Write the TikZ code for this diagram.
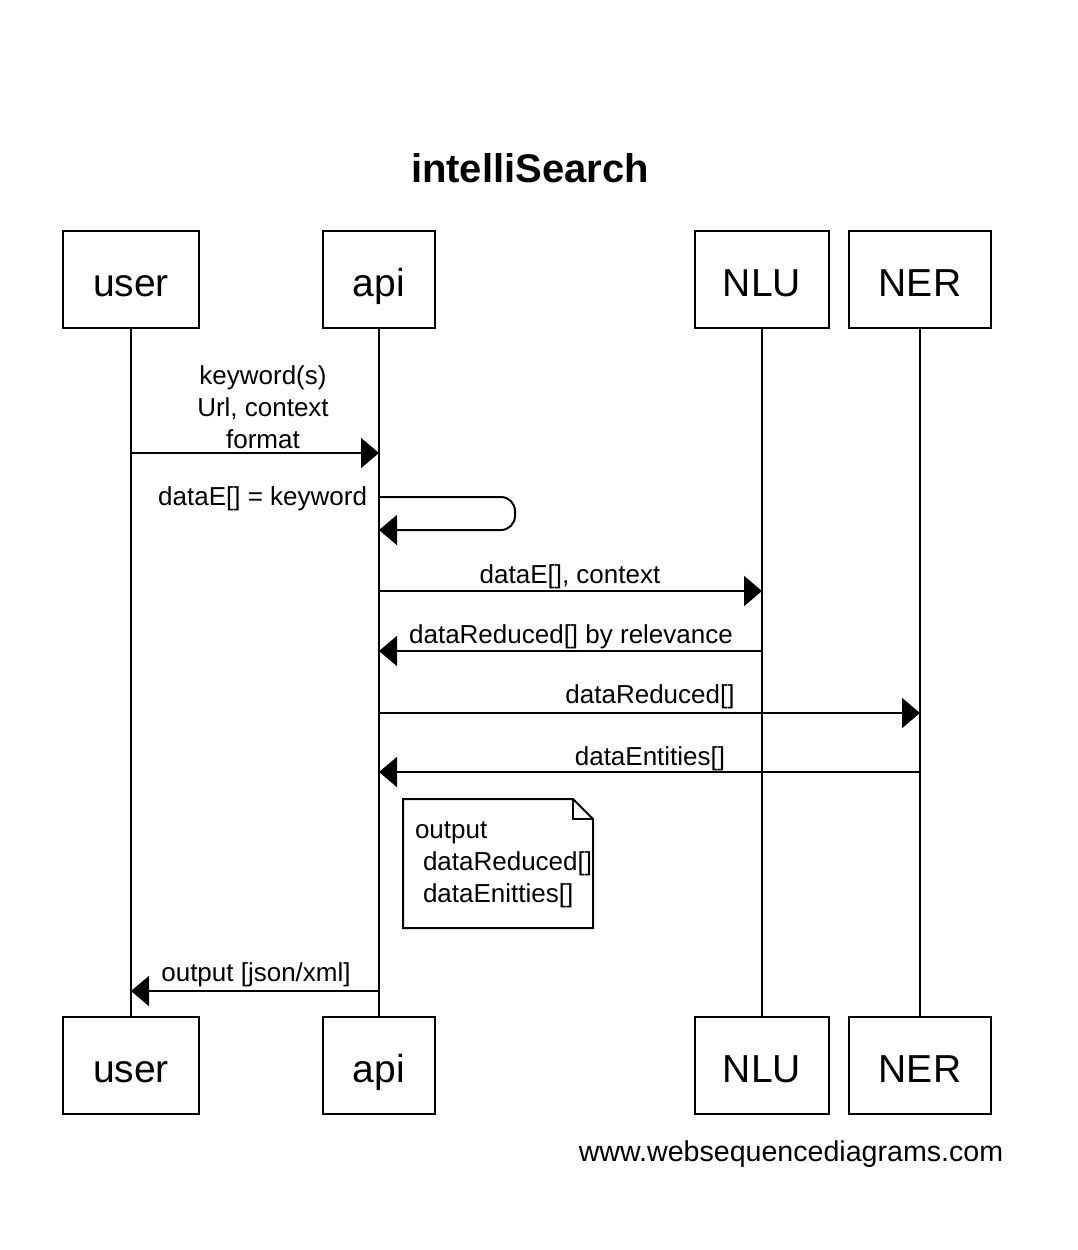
\documentclass[tikz,border=0pt]{standalone}
\usepackage{fontspec}
\setmainfont{Liberation Sans}
\usetikzlibrary{arrows.meta}

\begin{document}
\begin{tikzpicture}[x=0.5pt, y=-0.5pt, line width=1pt,
    actor/.style={draw, minimum height=48.5pt, inner sep=0pt, text height=16.5pt, text depth=0pt,
        font=\fontsize{19.5}{22}\selectfont},
    msg/.style={-{Triangle[length=9pt,width=15pt]}},
    lbl/.style={font=\fontsize{13}{16}\selectfont, inner sep=0pt, align=center}]
    \useasboundingbox (0,0) rectangle (1078,1250);

    % 标题
    \node[font=\fontsize{20}{24}\selectfont\bfseries] (title) at (530,168) {intelliSearch};

    % 参与者 (上)
    \node[actor, minimum width=68pt] (user) at (131,279.5) {user};
    \node[actor, minimum width=56pt] (api)  at (379,279.5) {api};
    \node[actor, minimum width=67pt] (nlu)  at (762,279.5) {NLU};
    \node[actor, minimum width=71pt] (ner)  at (920,279.5) {NER};

    % 参与者 (下)
    \node[actor, minimum width=68pt] (user-b) at (131,1065.5) {user};
    \node[actor, minimum width=56pt] (api-b)  at (379,1065.5) {api};
    \node[actor, minimum width=67pt] (nlu-b)  at (762,1065.5) {NLU};
    \node[actor, minimum width=71pt] (ner-b)  at (920,1065.5) {NER};

    % 生命线
    \draw (user.south) -- (user-b.north);
    \draw (api.south) -- (api-b.north);
    \draw (nlu.south) -- (nlu-b.north);
    \draw (ner.south) -- (ner-b.north);

    % 消息的端点
    \coordinate (u1) at (131,453);  \coordinate (a1) at (379,453);
    \coordinate (a2) at (379,497);  \coordinate (a3) at (379,530);
    \coordinate (a4) at (379,591);  \coordinate (n4) at (762,591);
    \coordinate (n5) at (762,651);  \coordinate (a5) at (379,651);
    \coordinate (a6) at (379,713);  \coordinate (r6) at (920,713);
    \coordinate (r7) at (920,772);  \coordinate (a7) at (379,772);
    \coordinate (a8) at (379,991);  \coordinate (u8) at (131,991);

    % 消息
    \draw[msg] (u1) -- (a1);
    \node[lbl] (l1) at (263,407) {keyword(s)\\ Url, context\\ format};
    \draw[msg, rounded corners=7pt] (a2) -- (515,497) -- (515,530) -- (a3);
    \node[lbl, anchor=east] (l2) at (368,499) {dataE[] = keyword};
    \draw[msg] (a4) -- (n4);
    \node[lbl] (l3) at (570,577) {dataE[], context};
    \draw[msg] (n5) -- (a5);
    \node[lbl] (l4) at (571,637) {dataReduced[] by relevance};
    \draw[msg] (a6) -- (r6);
    \node[lbl] (l5) at (650,697) {dataReduced[]};
    \draw[msg] (r7) -- (a7);
    \node[lbl] (l6) at (650,759) {dataEntities[]};
    \draw[msg] (a8) -- (u8);
    \node[lbl] (l8) at (256,975) {output [json/xml]};

    % 注释
    \draw (403,799) -- (573,799) -- (593,819) -- (593,928) -- (403,928) -- cycle;
    \draw (573,799) -- (573,819) -- (593,819);
    \node[lbl, align=left, anchor=north west] (note) at (414,821)
        {output\\ \hspace*{4pt}dataReduced[]\\ \hspace*{4pt}dataEnitties[]};

    % 网址
    \node[font=\fontsize{14.3}{17}\selectfont, inner sep=0pt] (site) at (791,1154) {www.websequencediagrams.com};
\end{tikzpicture}
\end{document}
